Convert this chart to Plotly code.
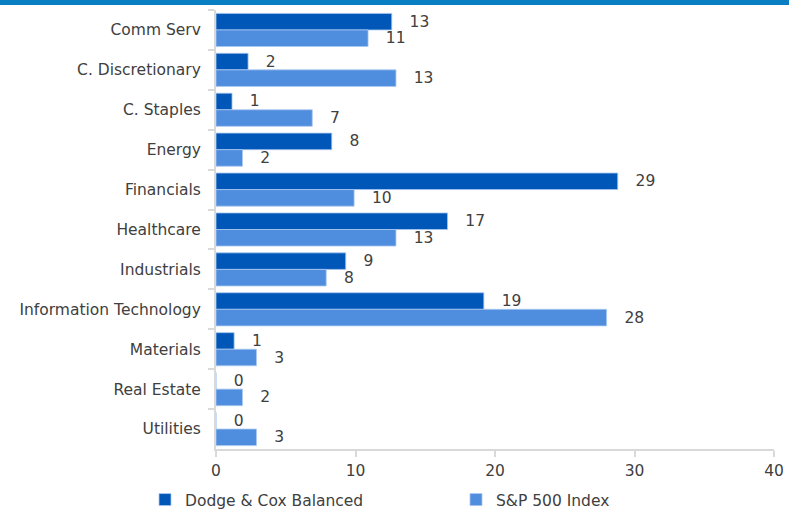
import plotly.graph_objects as go

sectors = ["Comm Serv", "C. Discretionary", "C. Staples", "Energy", "Financials",
           "Healthcare", "Industrials", "Information Technology", "Materials",
           "Real Estate", "Utilities"]
dodge_cox = [12.6, 2.3, 1.15, 8.3, 28.8, 16.6, 9.3, 19.2, 1.3, 0.0, 0.0]
sp500 = [10.9, 12.9, 6.9, 1.9, 9.9, 12.9, 7.9, 28.0, 2.9, 1.9, 2.9]

DARK = "#0057b8"
LIGHT = "#4f8ddf"
GRID = "#d9d9d9"
TXT = "#404040"
FONT = "DejaVu Sans"

fig = go.Figure()
for name, vals, col in [("Dodge & Cox Balanced", dodge_cox, DARK),
                        ("S&P 500 Index", sp500, LIGHT)]:
    fig.add_trace(go.Bar(
        y=sectors, x=vals, name=name, orientation="h",
        marker=dict(color=col, line=dict(color="#a9c8f0", width=0.8)),
        text=vals, texttemplate="   %{x:.0f}", textposition="outside",
        constraintext="none", cliponaxis=False,
        textfont=dict(family=FONT, size=15.5, color=TXT),
    ))

W, H = 789, 510
L, R, T, B = 216, 15, 10, 61
pw, ph = W - L - R, H - T - B

fig.update_layout(
    width=W, height=H, barmode="group", bargap=0.17, bargroupgap=0,
    paper_bgcolor="white", plot_bgcolor="white",
    margin=dict(l=L, r=R, t=T, b=B, autoexpand=False),
    font=dict(family=FONT, size=15.5, color=TXT),
    # legend sits left/below the plot area in paper units so it gets the full width
    legend=dict(orientation="h", x=(145 - L) / pw, y=-(483 - T - ph) / ph,
                xanchor="left", yanchor="top",
                entrywidth=266, entrywidthmode="pixels", traceorder="normal",
                font=dict(family=FONT, size=15.5, color=TXT)),
    shapes=[dict(type="rect", xref="paper", yref="paper",
                 x0=-L / pw, x1=1 + R / pw, y0=1 + (T - 5) / ph, y1=1 + (T + 2) / ph,
                 fillcolor="#0a7ec2", line=dict(width=0), layer="above")],
)
fig.update_xaxes(range=[0, 40], dtick=10, showgrid=False, zeroline=False,
                 showline=True, linecolor=GRID, linewidth=2, automargin=False,
                 ticks="outside", ticklen=6, tickcolor=GRID, tickwidth=2,
                 tickfont=dict(family=FONT, size=15.5, color=TXT))
fig.update_yaxes(autorange="reversed", showgrid=False, showline=True,
                 linecolor=GRID, linewidth=2, ticks="outside", ticklen=6,
                 tickcolor=GRID, tickwidth=2, tickson="boundaries",
                 ticklabelstandoff=10, automargin=False,
                 tickfont=dict(family=FONT, size=15.5, color=TXT))

fig.write_html("out.html", config={"displayModeBar": False},
               post_script="document.body.style.margin='0';")
